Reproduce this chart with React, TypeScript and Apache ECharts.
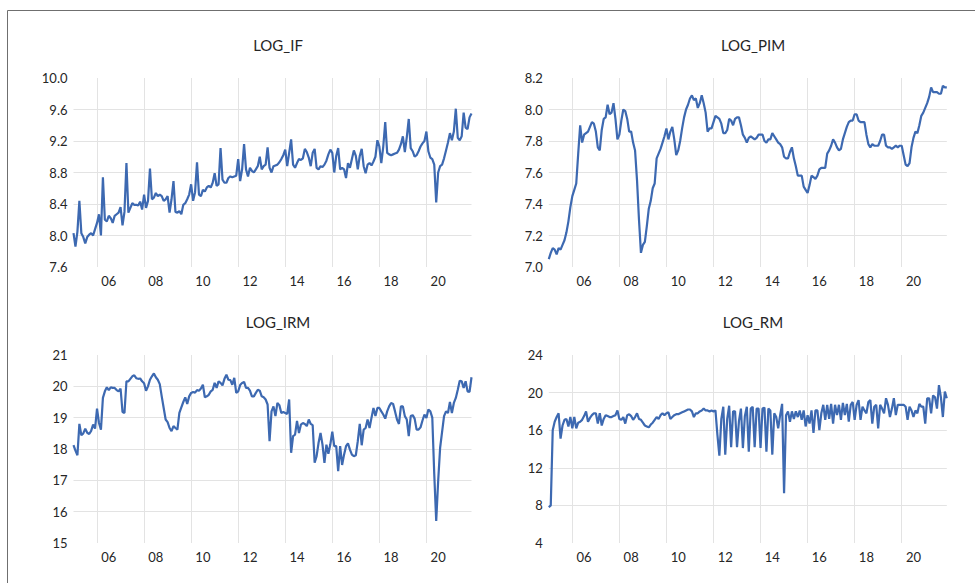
import React, { useEffect, useRef } from "react";
import * as echarts from "echarts";

// Monthly observations, Jan 2005 – Dec 2021
const START_YEAR = 2005;
const MONTH_COUNT = 204;
const months: string[] = [];
for (let i = 0; i < MONTH_COUNT; i++) {
  const y = START_YEAR + Math.floor(i / 12);
  const m = (i % 12) + 1;
  months.push(`${y}-${String(m).padStart(2, "0")}`);
}

const logIF = [
  8.03, 7.86, 8.05, 8.44, 8.03, 7.98, 7.90, 7.98, 8.01, 8.03, 8.00, 8.08,
  8.16, 8.27, 8.00, 8.74, 8.20, 8.18, 8.25, 8.22, 8.16, 8.25, 8.27, 8.29,
  8.36, 8.13, 8.30, 8.92, 8.29, 8.35, 8.41, 8.39, 8.39, 8.38, 8.43, 8.33,
  8.52, 8.35, 8.44, 8.85, 8.46, 8.48, 8.54, 8.50, 8.52, 8.50, 8.44, 8.46,
  8.50, 8.29, 8.46, 8.69, 8.30, 8.29, 8.31, 8.27, 8.39, 8.41, 8.46, 8.52,
  8.65, 8.44, 8.55, 8.93, 8.52, 8.50, 8.58, 8.56, 8.61, 8.63, 8.61, 8.67,
  8.79, 8.63, 8.65, 9.11, 8.71, 8.67, 8.67, 8.73, 8.75, 8.74, 8.75, 8.76,
  8.97, 8.69, 8.84, 9.16, 8.84, 8.75, 8.86, 8.82, 8.80, 8.84, 8.88, 9.00,
  8.84, 8.88, 8.90, 9.12, 8.86, 8.80, 8.88, 8.89, 8.90, 8.93, 8.97, 9.02,
  9.09, 8.88, 9.05, 9.22, 8.90, 8.86, 8.92, 8.97, 8.96, 8.98, 9.10, 9.06,
  8.99, 8.88, 9.05, 9.10, 8.86, 8.84, 8.88, 8.87, 8.90, 8.95, 9.03, 9.09,
  9.05, 8.80, 9.01, 9.11, 8.84, 8.86, 8.84, 8.73, 8.92, 8.86, 8.97, 9.08,
  9.01, 8.84, 9.01, 9.10, 8.88, 8.79, 8.90, 8.92, 8.89, 8.94, 9.00, 9.21,
  9.13, 8.92, 9.13, 9.44, 9.05, 9.03, 9.02, 9.03, 9.04, 9.05, 9.09, 9.16,
  9.26, 9.06, 9.25, 9.48, 9.11, 9.07, 9.00, 9.02, 9.07, 9.13, 9.17, 9.20,
  9.32, 9.07, 8.99, 8.97, 8.90, 8.42, 8.80, 8.88, 8.90, 8.98, 9.08, 9.18,
  9.30, 9.21, 9.32, 9.61, 9.24, 9.21, 9.26, 9.56, 9.37, 9.35, 9.50, 9.55,
];

const logPIM = [
  7.05, 7.09, 7.12, 7.11, 7.08, 7.12, 7.11, 7.14, 7.17, 7.22, 7.29, 7.38,
  7.45, 7.49, 7.53, 7.72, 7.90, 7.79, 7.84, 7.85, 7.86, 7.89, 7.92, 7.91,
  7.86, 7.76, 7.74, 7.87, 7.94, 7.95, 8.03, 7.97, 7.98, 8.04, 7.94, 7.81,
  7.84, 7.93, 8.00, 7.99, 7.94, 7.86, 7.86, 7.79, 7.74, 7.55, 7.30, 7.09,
  7.14, 7.16, 7.26, 7.37, 7.42, 7.50, 7.53, 7.69, 7.72, 7.75, 7.79, 7.83,
  7.88, 7.81, 7.86, 7.89, 7.81, 7.71, 7.74, 7.80, 7.88, 7.95, 8.00, 8.03,
  8.07, 8.09, 8.06, 8.07, 8.01, 8.04, 8.09, 8.04, 7.98, 7.86, 7.88, 7.88,
  7.92, 7.96, 7.95, 7.94, 7.91, 7.85, 7.85, 7.87, 7.94, 7.93, 7.90, 7.94,
  7.95, 7.95, 7.90, 7.84, 7.82, 7.79, 7.82, 7.83, 7.82, 7.81, 7.82, 7.84,
  7.84, 7.84, 7.80, 7.79, 7.81, 7.81, 7.85, 7.83, 7.81, 7.79, 7.78, 7.76,
  7.70, 7.69, 7.69, 7.73, 7.76, 7.69, 7.64, 7.58, 7.58, 7.58, 7.51, 7.49,
  7.47, 7.52, 7.58, 7.57, 7.56, 7.58, 7.62, 7.63, 7.63, 7.63, 7.72, 7.74,
  7.77, 7.81, 7.79, 7.76, 7.74, 7.75, 7.81, 7.85, 7.89, 7.92, 7.93, 7.93,
  7.97, 7.97, 7.93, 7.92, 7.92, 7.92, 7.84, 7.78, 7.76, 7.78, 7.77, 7.77,
  7.77, 7.80, 7.84, 7.84, 7.77, 7.76, 7.76, 7.75, 7.76, 7.77, 7.76, 7.77,
  7.77, 7.71, 7.65, 7.64, 7.66, 7.76, 7.82, 7.86, 7.85, 7.90, 7.96, 7.98,
  8.01, 8.04, 8.08, 8.14, 8.11, 8.11, 8.11, 8.10, 8.10, 8.15, 8.14, 8.14,
];

const logIRM = [
  18.12, 17.95, 17.80, 18.80, 18.44, 18.50, 18.65, 18.52, 18.48, 18.58, 18.78, 18.65,
  19.29, 18.83, 18.62, 19.63, 19.84, 19.97, 19.88, 19.97, 19.95, 19.95, 19.88, 19.84,
  19.93, 19.18, 19.15, 20.16, 20.16, 20.24, 20.32, 20.35, 20.26, 20.24, 20.25, 20.16,
  20.10, 19.86, 20.00, 20.21, 20.32, 20.41, 20.29, 20.21, 20.07, 19.68, 19.31, 18.94,
  18.86, 18.67, 18.57, 18.73, 18.67, 18.62, 19.15, 19.33, 19.50, 19.65, 19.44, 19.68,
  19.79, 19.82, 19.80, 19.88, 19.86, 19.93, 20.05, 19.65, 19.68, 19.73, 19.84, 19.89,
  20.11, 19.95, 20.16, 20.11, 20.03, 20.24, 20.37, 20.21, 20.20, 20.05, 20.27, 19.79,
  19.84, 20.04, 20.11, 20.14, 19.95, 19.95, 19.86, 19.68, 19.68, 19.79, 19.89, 19.86,
  19.68, 19.65, 19.58, 19.42, 18.25, 19.20, 19.36, 19.05, 19.47, 19.40, 19.15, 19.18,
  19.15, 19.12, 19.58, 17.88, 18.41, 18.46, 18.90, 18.51, 18.78, 18.83, 18.80, 18.73,
  18.94, 18.80, 18.76, 17.56, 17.77, 18.20, 18.51, 18.14, 17.56, 18.14, 17.85, 18.15,
  18.55, 18.09, 18.09, 17.29, 18.09, 17.49, 17.82, 18.09, 18.18, 17.98, 17.82, 17.77,
  17.80, 18.25, 18.80, 18.12, 18.62, 18.67, 18.94, 18.67, 19.00, 19.31, 19.05, 19.31,
  19.31, 19.20, 19.10, 18.97, 19.20, 19.36, 19.47, 19.44, 19.20, 18.94, 18.80, 19.36,
  19.36, 19.05, 18.94, 18.41, 19.05, 19.08, 18.97, 18.62, 18.62, 18.69, 18.91, 19.10,
  18.99, 19.26, 19.20, 19.00, 17.20, 15.70, 16.98, 18.04, 18.55, 19.05, 19.20, 19.15,
  19.50, 19.15, 19.47, 19.63, 19.89, 20.18, 20.16, 19.95, 20.16, 19.84, 19.82, 20.29,
];

const logRM = [
  7.8, 8.0, 16.0, 16.9, 17.4, 17.8, 15.1, 16.5, 17.1, 17.2, 16.4, 17.4,
  16.2, 17.4, 16.2, 16.8, 16.9, 17.1, 17.5, 18.0, 16.9, 17.3, 17.6, 17.8,
  17.8, 16.7, 17.8, 16.5, 17.2, 17.6, 17.5, 17.4, 17.4, 17.5, 17.6, 18.1,
  17.2, 17.1, 17.4, 16.7, 17.6, 17.7, 17.5, 17.1, 17.4, 17.8, 17.2, 17.1,
  16.8, 16.5, 16.4, 16.3, 16.6, 16.8, 17.1, 17.4, 17.2, 17.6, 17.8, 17.6,
  17.8, 17.9, 17.2, 17.4, 17.6, 17.7, 17.7, 17.8, 17.9, 18.0, 18.1, 18.2,
  18.2, 18.0, 17.4, 17.8, 17.8, 18.0, 18.1, 18.3, 18.1, 18.1, 18.0, 18.1,
  18.0, 18.1, 15.5, 13.3, 17.2, 18.5, 13.4, 17.2, 18.6, 14.2, 18.0, 18.0,
  14.2, 17.0, 18.3, 14.1, 17.5, 18.5, 13.7, 18.3, 18.5, 14.2, 18.3, 18.3,
  14.1, 18.3, 18.4, 13.7, 18.3, 18.1, 13.4, 17.8, 17.4, 16.2, 17.6, 18.8,
  9.3, 17.6, 18.0, 16.9, 18.0, 17.2, 18.0, 17.4, 18.1, 17.1, 18.1, 16.4,
  17.6, 16.7, 18.1, 15.7, 18.1, 18.1, 16.0, 17.8, 18.7, 17.1, 18.7, 17.2,
  18.8, 16.7, 18.7, 17.6, 18.7, 17.1, 18.9, 17.6, 18.8, 16.9, 18.7, 19.0,
  17.1, 18.7, 19.2, 17.1, 18.5, 18.1, 17.8, 19.0, 19.2, 16.7, 18.5, 18.7,
  16.2, 18.7, 18.3, 17.8, 19.4, 18.7, 17.4, 18.3, 19.4, 17.6, 18.7, 18.7,
  18.7, 18.7, 18.5, 17.1, 18.5, 18.1, 17.4, 18.1, 17.8, 18.8, 18.5, 18.5,
  16.7, 19.4, 19.4, 17.8, 19.7, 19.5, 18.3, 20.8, 19.5, 17.4, 20.1, 19.4,
];

const TITLES = ["LOG_IF", "LOG_PIM", "LOG_IRM", "LOG_RM"];
const SERIES = [logIF, logPIM, logIRM, logRM];
const Y_MIN = [7.6, 7.0, 15, 4];
const Y_MAX = [10.0, 8.2, 21, 24];
const Y_STEP = [0.4, 0.2, 1, 4];
const Y_DECIMALS = [1, 1, 0, 0];

const FONT = "Lato, 'Open Sans', sans-serif";
const TEXT_COLOR = "#262626";
const LINE_COLOR = "#3D69B1";
const GRID_COLOR = "#E3E3E3";

const GRIDS = [
  { left: 73.5, top: 78, width: 398, height: 189 },
  { left: 548.8, top: 78, width: 398, height: 189 },
  { left: 73.5, top: 355, width: 398, height: 188 },
  { left: 548.8, top: 355, width: 398, height: 188 },
];
const TITLE_POS = [
  { x: 273, y: 32 },
  { x: 748, y: 32 },
  { x: 273, y: 309 },
  { x: 748, y: 309 },
];

const isEvenYearJan = (v: string) =>
  v.endsWith("-01") && parseInt(v.slice(0, 4), 10) % 2 === 0;
const isEvenYearJul = (v: string) =>
  v.endsWith("-07") && parseInt(v.slice(0, 4), 10) % 2 === 0;

export default function App() {
  const ref = useRef<HTMLDivElement>(null);

  useEffect(() => {
    if (!ref.current) return;
    const chart = echarts.init(ref.current, undefined, { renderer: "svg" });

    const option: any = {
      animation: false,
      backgroundColor: "#ffffff",
      title: TITLES.map((t, i) => ({
        text: t,
        left: TITLE_POS[i].x,
        top: TITLE_POS[i].y,
        textAlign: "center",
        textStyle: {
          fontFamily: FONT,
          fontSize: 15,
          fontWeight: "normal",
          color: TEXT_COLOR,
        },
      })),
      grid: GRIDS.map((g) => ({ ...g, containLabel: false })),
      xAxis: GRIDS.map((_, i) => ({
        type: "category",
        gridIndex: i,
        data: months,
        boundaryGap: false,
        axisLine: { show: false },
        axisTick: { show: false },
        axisLabel: {
          interval: (_idx: number, v: string) => isEvenYearJul(v),
          formatter: (v: string) => v.slice(2, 4),
          fontFamily: FONT,
          fontSize: 13,
          color: TEXT_COLOR,
          margin: 7,
        },
        splitLine: {
          show: true,
          interval: (_idx: number, v: string) => isEvenYearJan(v),
          lineStyle: { color: GRID_COLOR, width: 1 },
        },
      })),
      yAxis: GRIDS.map((_, i) => ({
        type: "value",
        gridIndex: i,
        min: Y_MIN[i],
        max: Y_MAX[i],
        interval: Y_STEP[i],
        axisLine: { show: false },
        axisTick: { show: false },
        axisLabel: {
          formatter: (v: number) => v.toFixed(Y_DECIMALS[i]),
          fontFamily: FONT,
          fontSize: 13,
          color: TEXT_COLOR,
          margin: 6,
        },
        splitLine: {
          show: true,
          showMinLine: false,
          showMaxLine: false,
          lineStyle: { color: GRID_COLOR, width: 1 },
        },
      })),
      series: SERIES.map((d, i) => ({
        type: "line",
        name: TITLES[i],
        xAxisIndex: i,
        yAxisIndex: i,
        data: d,
        showSymbol: false,
        symbol: "none",
        lineStyle: { color: LINE_COLOR, width: 2.2 },
        itemStyle: { color: LINE_COLOR },
        silent: true,
      })),
      graphic: [
        {
          type: "polyline",
          shape: {
            points: [
              [7.5, 583],
              [7.5, 10.5],
              [975, 10.5],
            ],
          },
          style: { stroke: "#6F6F6F", lineWidth: 1, fill: "none" },
          silent: true,
        },
      ],
    };

    chart.setOption(option);
    return () => chart.dispose();
  }, []);

  return (
    <div
      ref={ref}
      style={{
        position: "fixed",
        left: 0,
        top: 0,
        width: 975,
        height: 583,
        background: "#fff",
      }}
    />
  );
}
